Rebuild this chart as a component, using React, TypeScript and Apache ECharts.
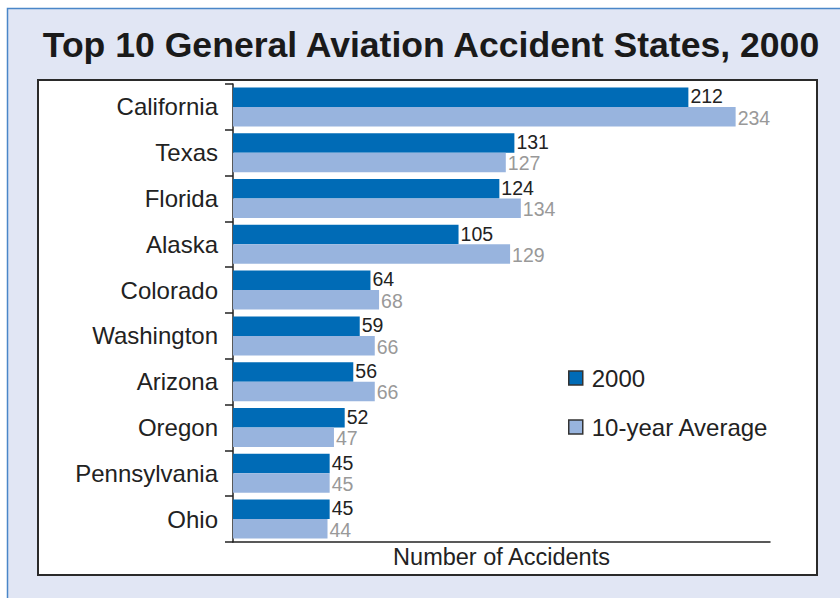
import React, { useEffect, useRef } from "react";
import * as echarts from "echarts";

const states = ["California", "Texas", "Florida", "Alaska", "Colorado", "Washington", "Arizona", "Oregon", "Pennsylvania", "Ohio"];
const accidents2000 = [212, 131, 124, 105, 64, 59, 56, 52, 45, 45];
const tenYearAverage = [234, 127, 134, 129, 68, 66, 66, 47, 45, 44];
const seriesNames = ["2000", "10-year Average"];
const titleText = "Top 10 General Aviation Accident States, 2000";
const xAxisName = "Number of Accidents";

const FONT = "'Liberation Sans', Arial, Helvetica, sans-serif";
const DARK = "#006bb6";
const LIGHT = "#98b4de";

export default function App() {
  const ref = useRef<HTMLDivElement>(null);
  useEffect(() => {
    if (!ref.current) return;
    const chart = echarts.init(ref.current, null, { renderer: "svg" });
    chart.setOption({
      animation: false,
      textStyle: { fontFamily: FONT },
      graphic: [
        {
          type: "rect",
          z: -20,
          silent: true,
          shape: { x: 7.5, y: 8.5, width: 860, height: 620 },
          style: { fill: "#e1e6f4", stroke: "#4a86c8", lineWidth: 1.5 },
        },
        {
          type: "rect",
          z: -10,
          silent: true,
          shape: { x: 38, y: 80, width: 779, height: 495 },
          style: { fill: "#ffffff", stroke: "#2a2a2a", lineWidth: 2 },
        },
      ],
      title: {
        text: titleText,
        left: 426,
        top: 22,
        textAlign: "center",
        textStyle: { fontFamily: FONT, fontSize: 35.6, fontWeight: "bold", color: "#1a1a1a" },
      },
      legend: {
        orient: "vertical",
        left: 563,
        top: 361,
        itemGap: 25,
        itemWidth: 14,
        itemHeight: 14,
        icon: "rect",
        data: [
          { name: seriesNames[0], itemStyle: { color: DARK, borderColor: "#333", borderWidth: 1.5 } },
          { name: seriesNames[1], itemStyle: { color: LIGHT, borderColor: "#333", borderWidth: 1.5 } },
        ],
        textStyle: { fontFamily: FONT, fontSize: 24, color: "#222", padding: [0, 0, 0, 4] },
      },
      grid: { left: 233, right: 70, top: 84, bottom: 56, containLabel: false },
      xAxis: {
        type: "value",
        min: 0,
        max: 250,
        name: xAxisName,
        nameLocation: "middle",
        nameGap: 3,
        nameTextStyle: { fontFamily: FONT, fontSize: 23.5, color: "#222", verticalAlign: "top" },
        axisLine: { show: true, lineStyle: { color: "#222", width: 1.5 } },
        axisTick: { show: false },
        axisLabel: { show: false },
        splitLine: { show: false },
      },
      yAxis: {
        type: "category",
        inverse: true,
        data: states,
        axisLine: { show: true, lineStyle: { color: "#222", width: 1.5 } },
        axisTick: { show: true, length: 8, lineStyle: { color: "#222", width: 1.5 } },
        axisLabel: { margin: 15, fontFamily: FONT, fontSize: 24, color: "#222" },
      },
      series: [
        {
          name: seriesNames[0],
          type: "bar",
          data: accidents2000,
          barWidth: 19.5,
          barGap: "0%",
          itemStyle: { color: DARK },
          label: { show: true, position: "right", distance: 2, offset: [0, -1], fontFamily: FONT, fontSize: 19.5, lineHeight: 16, color: "#222" },
        },
        {
          name: seriesNames[1],
          type: "bar",
          data: tenYearAverage,
          barWidth: 19.5,
          barGap: "0%",
          itemStyle: { color: LIGHT },
          label: { show: true, position: "right", distance: 2, offset: [0, 1], fontFamily: FONT, fontSize: 19.5, lineHeight: 16, color: "#999" },
        },
      ],
    });
    return () => chart.dispose();
  }, []);
  return <div ref={ref} style={{ position: "absolute", left: 0, top: 0, width: 840, height: 598 }} />;
}
